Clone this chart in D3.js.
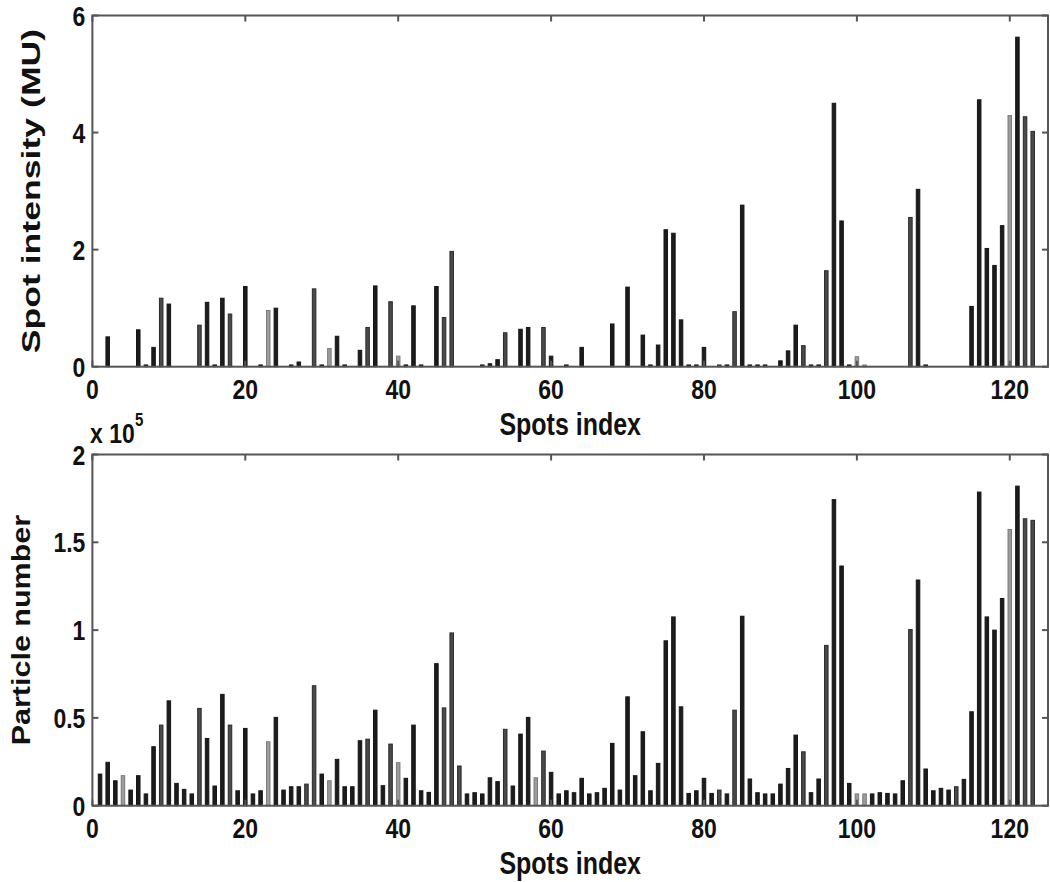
<!DOCTYPE html>
<html>
<head>
<meta charset="utf-8">
<script src="https://cdn.jsdelivr.net/npm/d3@7"></script>
<style>
  html, body { margin: 0; padding: 0; background: #fff; }
  svg text { font-family: "Liberation Sans", Arial, sans-serif; font-weight: bold; fill: #111; }
</style>
</head>
<body>
<div id="contenedor"></div>
<script>
const ANCHO = 1050;
const ALTO = 882;
const ESTIRAR_Y = 1.22; // the picture is a bit taller than wide

// spot index 1..123
const indices = d3.range(1, 124);

// top panel: spot intensity (MU)
const intensidad = [
  0, 0.51, 0, 0, 0, 0.63, 0.03, 0.33, 1.17, 1.07,
  0, 0, 0, 0.71, 1.10, 0.03, 1.17, 0.90, 0, 1.37,
  0, 0.03, 0.96, 1.00, 0, 0.03, 0.08, 0, 1.33, 0.03,
  0.31, 0.52, 0.03, 0, 0.28, 0.67, 1.38, 0, 1.11, 0.18,
  0.03, 1.04, 0.03, 0, 1.37, 0.84, 1.97, 0, 0, 0,
  0.03, 0.05, 0.12, 0.58, 0, 0.64, 0.67, 0, 0.67, 0.18,
  0, 0.03, 0, 0.33, 0, 0, 0, 0.73, 0, 1.36,
  0, 0.54, 0.03, 0.37, 2.34, 2.28, 0.80, 0.03, 0.03, 0.33,
  0, 0.03, 0.03, 0.94, 2.76, 0.03, 0.03, 0.03, 0, 0.10,
  0.27, 0.71, 0.36, 0.03, 0.03, 1.64, 4.50, 2.49, 0.03, 0.17,
  0.03, 0, 0, 0, 0, 0, 2.55, 3.03, 0.03, 0,
  0, 0, 0, 0, 1.03, 4.56, 2.02, 1.73, 2.41, 4.29,
  5.63, 4.27, 4.02
];

// bottom panel: particle number (x 10^5)
const particulas = [
  0.18, 0.247, 0.142, 0.171, 0.089, 0.171, 0.067, 0.336, 0.459, 0.597,
  0.127, 0.093, 0.067, 0.554, 0.383, 0.112, 0.634, 0.459, 0.085, 0.44,
  0.067, 0.085, 0.364, 0.503, 0.089, 0.108, 0.108, 0.123, 0.683, 0.18,
  0.142, 0.264, 0.108, 0.108, 0.37, 0.379, 0.544, 0.114, 0.351, 0.245,
  0.156, 0.459, 0.085, 0.076, 0.809, 0.557, 0.984, 0.226, 0.067, 0.074,
  0.067, 0.159, 0.137, 0.435, 0.112, 0.408, 0.503, 0.159, 0.311, 0.19,
  0.067, 0.085, 0.074, 0.156, 0.067, 0.074, 0.099, 0.355, 0.089, 0.62,
  0.171, 0.421, 0.085, 0.241, 0.939, 1.075, 0.563, 0.07, 0.085, 0.156,
  0.07, 0.089, 0.067, 0.544, 1.079, 0.152, 0.074, 0.067, 0.067, 0.123,
  0.212, 0.402, 0.307, 0.074, 0.152, 0.913, 1.743, 1.365, 0.127, 0.067,
  0.067, 0.067, 0.074, 0.07, 0.067, 0.142, 1.003, 1.285, 0.209, 0.085,
  0.099, 0.089, 0.108, 0.15, 0.535, 1.786, 1.075, 1.0, 1.18, 1.573,
  1.82, 1.634, 1.625
];

// gray tone of each spot: 0 dark, 1 mid, 2 light
const tonosClaros = [4, 23, 31, 40, 58, 100, 101, 120];
const tonosMedios = [9, 14, 18, 28, 29, 36, 39, 46, 47, 48, 54, 59, 82, 84, 93, 96, 107, 113, 122, 123];

const ticksX = [0, 20, 40, 60, 80, 100, 120];
const ticksIntensidad = [0, 2, 4, 6];
const ticksParticulas = [0, 0.5, 1, 1.5, 2];

const tono = (i) => tonosClaros.includes(i) ? 2 : (tonosMedios.includes(i) ? 1 : 0);
const RELLENOS = ["#1c1c1c", "#4a4a4a", "#9c9c9c"];
const BORDES = ["#151515", "#2a2a2a", "#7a7a7a"];

const $svg = d3.select("#contenedor")
  .append("svg")
  .attr("width", ANCHO)
  .attr("height", ALTO);

const texto = (x, y, cadena, tam, ancla, girar) => {
  const g = $svg.append("g")
    .attr("transform", `translate(${x},${y}) scale(1,${ESTIRAR_Y})` + (girar ? " rotate(-90)" : ""));
  return g.append("text")
    .attr("text-anchor", ancla)
    .attr("dy", "0.36em")
    .style("font-size", tam + "px")
    .text(cadena);
};

const panel = (valores, ticksY, arriba, abajo, etiquetaY, etiquetaX, etiquetaCentro) => {
  const x = d3.scaleLinear().domain([0, 125]).range([92.4, 1048]);
  const y = d3.scaleLinear().domain([0, ticksY[ticksY.length - 1]]).range([abajo, arriba]);
  const anchoBarra = x(0.46) - x(0);

  // bars
  $svg.append("g").selectAll("rect")
    .data(indices)
    .join("rect")
    .attr("x", (d) => x(d) - anchoBarra / 2)
    .attr("y", (d) => y(valores[d - 1]))
    .attr("width", anchoBarra)
    .attr("height", (d) => y(0) - y(valores[d - 1]))
    .attr("fill", (d) => RELLENOS[tono(d)])
    .attr("stroke", (d) => BORDES[tono(d)])
    .attr("stroke-width", 1)
    .attr("display", (d) => valores[d - 1] > 0 ? null : "none");

  // box with inward ticks on all sides
  const ejes = $svg.append("g").attr("stroke", "#555").attr("stroke-width", 2).attr("fill", "none");
  ejes.append("rect")
    .attr("x", x(0)).attr("y", arriba)
    .attr("width", x(125) - x(0)).attr("height", abajo - arriba);
  const L = 6;
  for (const t of ticksX) {
    ejes.append("line").attr("x1", x(t)).attr("x2", x(t)).attr("y1", abajo).attr("y2", abajo - L);
    ejes.append("line").attr("x1", x(t)).attr("x2", x(t)).attr("y1", arriba).attr("y2", arriba + L);
  }
  for (const t of ticksY) {
    ejes.append("line").attr("x1", x(0)).attr("x2", x(0) + L).attr("y1", y(t)).attr("y2", y(t));
    ejes.append("line").attr("x1", x(125)).attr("x2", x(125) - L).attr("y1", y(t)).attr("y2", y(t));
  }

  // tick labels
  for (const t of ticksX) {
    texto(x(t), abajo + 22, String(t), 23, "middle", false);
  }
  for (const t of ticksY) {
    texto(x(0) - 7, y(t), String(t), 23, "end", false);
  }

  texto((x(0) + x(125)) / 2, abajo + 57, etiquetaX, 25, "middle", false);
  const ly = texto(etiquetaCentro, (arriba + abajo) / 2, etiquetaY, 25, "middle", true);
  return ly;
};

const etiquetaArriba = panel(intensidad, ticksIntensidad, 15.5, 366.7, "Spot intensity (MU)", "Spots index", 31);
etiquetaArriba.style("font-size", "26px").attr("textLength", 266).attr("lengthAdjust", "spacingAndGlyphs");
panel(particulas, ticksParticulas, 454.5, 805.7, "Particle number", "Spots index", 21);

// exponent of the lower panel
texto(90, 433, "x 10", 23, "start", false);
texto(135, 419, "5", 15, "start", false);
</script>
</body>
</html>
